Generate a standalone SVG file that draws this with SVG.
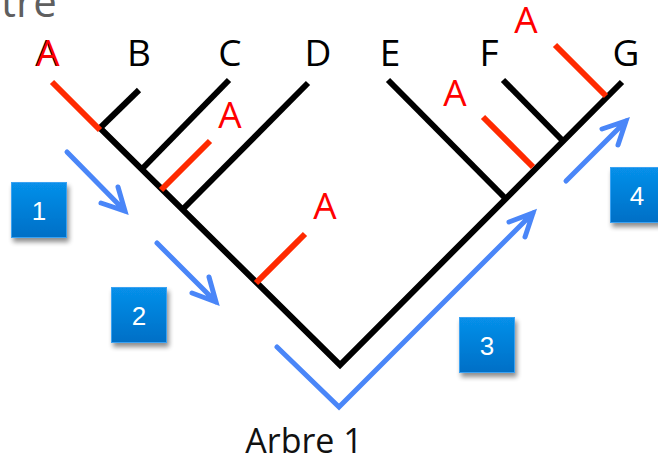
<svg xmlns="http://www.w3.org/2000/svg" width="658" height="460" viewBox="0 0 658 460">
  <defs>
    <linearGradient id="boxFill" x1="0" y1="0" x2="0" y2="1">
      <stop offset="0" stop-color="#0790ea"/>
      <stop offset="1" stop-color="#006fc6"/>
    </linearGradient>
    <filter id="shadow" x="-30%" y="-30%" width="160%" height="170%">
      <feGaussianBlur in="SourceAlpha" stdDeviation="2.5"/>
      <feOffset dx="2" dy="4" result="b"/>
      <feComponentTransfer><feFuncA type="linear" slope="0.45"/></feComponentTransfer>
      <feMerge><feMergeNode/><feMergeNode in="SourceGraphic"/></feMerge>
    </filter>
  </defs>
  <style>
    .br { stroke: #000; stroke-width: 6; fill: none; stroke-linecap: butt; stroke-linejoin: miter; }
    .mut { stroke: #ff2a00; stroke-width: 6; fill: none; }
    .lbl { font-family: "Open Sans", "Liberation Sans", sans-serif; font-size: 37px; fill: #000; text-anchor: middle; }
    .lblA { font-family: "Open Sans", "Liberation Sans", sans-serif; font-size: 37px; fill: #ff0000; text-anchor: middle; }
    .walk { stroke: #4a86f8; stroke-width: 5; fill: none; stroke-linecap: round; stroke-linejoin: miter; }
    .box { fill: url(#boxFill); stroke: #3aa2f2; stroke-width: 1; filter: url(#shadow); }
    .num { font-family: "Liberation Sans", Arial, sans-serif; font-size: 26px; fill: #fff; text-anchor: middle; }
  </style>

  <!-- partial title at the top -->
  <text x="1" y="17" font-family="Open Sans, Liberation Sans, sans-serif" font-size="42" fill="#5f5f5f">tre</text>

  <!-- tree branches -->
  <g id="tree">
    <polyline class="br" points="100,128 340,365 622,82"/>
    <line class="br" x1="100" y1="128" x2="139" y2="90"/>
    <line class="br" x1="141" y1="170" x2="229" y2="80"/>
    <line class="br" x1="182" y1="210" x2="308" y2="83"/>
    <line class="br" x1="506" y1="199" x2="388" y2="80"/>
    <line class="br" x1="562" y1="140" x2="503" y2="80"/>
  </g>

  <!-- mutation marks -->
  <g id="mutations">
    <line class="mut" x1="52" y1="82" x2="100" y2="130"/>
    <line class="mut" x1="161" y1="190" x2="210" y2="141"/>
    <line class="mut" x1="256" y1="283" x2="305" y2="234"/>
    <line class="mut" x1="483" y1="117" x2="533" y2="167"/>
    <line class="mut" x1="555" y1="45" x2="606" y2="96"/>
  </g>

  <!-- leaf labels -->
  <g id="leaves">
    <text class="lbl" x="47" y="66">A</text>
    <text class="lblA" x="48" y="66">A</text>
    <text class="lbl" x="139" y="66">B</text>
    <text class="lbl" x="230" y="66">C</text>
    <text class="lbl" x="318" y="66">D</text>
    <text class="lbl" x="390" y="66">E</text>
    <text class="lbl" x="489" y="66">F</text>
    <text class="lbl" x="626" y="66">G</text>
  </g>

  <!-- mutation labels -->
  <g id="mutation-labels">
    <text class="lblA" x="230" y="128">A</text>
    <text class="lblA" x="325" y="219">A</text>
    <text class="lblA" x="455" y="106">A</text>
    <text class="lblA" x="526" y="33">A</text>
  </g>

  <!-- traversal arrows -->
  <g id="connectors">
    <path class="walk" d="M67,152 L125,211 M101,203 L125,211 L118,187"/>
    <path class="walk" d="M157,243 L216,302 M192,293 L216,302 L209,277"/>
    <path class="walk" d="M277,347 L339,407 L533,213 M509,222 L533,213 L525,237"/>
    <path class="walk" d="M566,181 L626,121 M602,129 L626,121 L618,145"/>
  </g>

  <!-- step markers -->
  <g id="step1">
    <rect class="box" x="11.5" y="182.5" width="55" height="55"/>
    <text class="num" x="39" y="220">1</text>
  </g>
  <g id="step2">
    <rect class="box" x="111.5" y="287.5" width="55" height="55"/>
    <text class="num" x="139" y="325">2</text>
  </g>
  <g id="step3">
    <rect class="box" x="459.5" y="317.5" width="55" height="55"/>
    <text class="num" x="487" y="355">3</text>
  </g>
  <g id="step4">
    <rect class="box" x="610.5" y="167.5" width="55" height="55"/>
    <text class="num" x="637" y="205">4</text>
  </g>

  <text x="304" y="453" font-family="Open Sans, Liberation Sans, sans-serif" font-size="34" fill="#111" text-anchor="middle">Arbre 1</text>
</svg>
